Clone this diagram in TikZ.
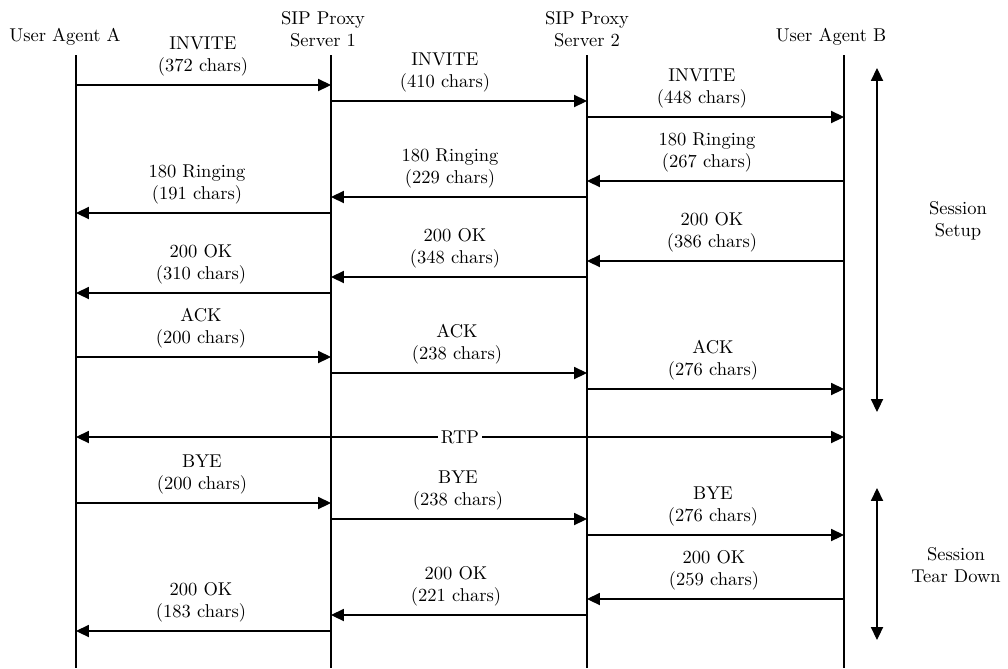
\documentclass[tikz,border=0pt]{standalone}
\usetikzlibrary{arrows.meta}
\begin{document}
\begin{tikzpicture}[x=0.54pt,y=-0.54pt,
  lifeline/.style={line width=0.6pt},
  msg/.style={line width=0.6pt,-{Triangle[length=7pt,width=6.6pt]}},
  span/.style={line width=0.6pt,{Triangle[length=7pt,width=6.6pt]}-{Triangle[length=7pt,width=6.6pt]}},
  lbl/.style={align=center,inner sep=0pt},
  head/.style={align=center,inner sep=0pt}]
\useasboundingbox (0,0) rectangle (1008,668);

% participants
\node[head] (hA)  at (65,37)  {User Agent A};
\node[head] (hP1) at (323,29) {SIP Proxy\\Server 1};
\node[head] (hP2) at (587,29) {SIP Proxy\\Server 2};
\node[head] (hB)  at (831,37) {User Agent B};

% lifelines
\coordinate (tA) at (76,55);  \coordinate (bA) at (76,668);
\coordinate (tP1) at (331,55); \coordinate (bP1) at (331,668);
\coordinate (tP2) at (587,55); \coordinate (bP2) at (587,668);
\coordinate (tB) at (844,55);  \coordinate (bB) at (844,668);
\draw[lifeline] (tA) -- (bA);
\draw[lifeline] (tP1) -- (bP1);
\draw[lifeline] (tP2) -- (bP2);
\draw[lifeline] (tB) -- (bB);

% signalling messages: index / from x / to x / y / label x / two label lines
\foreach \i/\fx/\tx/\y/\lx/\la/\lb in {
  1/76/331/85/203/INVITE/(372 chars),
  2/331/587/101/445/INVITE/(410 chars),
  3/587/844/117/702/INVITE/(448 chars),
  4/844/587/181/707/180 Ringing/(267 chars),
  5/587/331/197/450/180 Ringing/(229 chars),
  6/331/76/213/197/180 Ringing/(191 chars),
  7/844/587/261/712/200 OK/(386 chars),
  8/587/331/277/455/200 OK/(348 chars),
  9/331/76/293/201/200 OK/(310 chars),
  10/76/331/357/201/ACK/(200 chars),
  11/331/587/373/457/ACK/(238 chars),
  12/587/844/389/713/ACK/(276 chars),
  13/76/331/503/202/BYE/(200 chars),
  14/331/587/519/458/BYE/(238 chars),
  15/587/844/535/713/BYE/(276 chars),
  16/844/587/599/714/200 OK/(259 chars),
  17/587/331/615/456/200 OK/(221 chars),
  18/331/76/631/201/200 OK/(183 chars)}
{
  \coordinate (s\i) at (\fx,\y);
  \coordinate (e\i) at (\tx,\y);
  \draw[msg] (s\i) -- (e\i);
  \node[lbl] (l\i) at (\lx,\y-28.5) {\la\\\lb};
}

% media stream
\coordinate (rtpA) at (76,437);
\coordinate (rtpB) at (844,437);
\draw[span] (rtpA) -- node[fill=white,inner sep=1.5pt] (rtp) {RTP} (rtpB);

% phase markers
\coordinate (su1) at (877,68);  \coordinate (su2) at (877,412);
\coordinate (td1) at (877,488); \coordinate (td2) at (877,640);
\draw[span] (su1) -- (su2);
\draw[span] (td1) -- (td2);
\node[lbl] (setup) at (958,220.5) {Session\\Setup};
\node[lbl] (teardown) at (956,565) {Session\\Tear Down};
\end{tikzpicture}
\end{document}
